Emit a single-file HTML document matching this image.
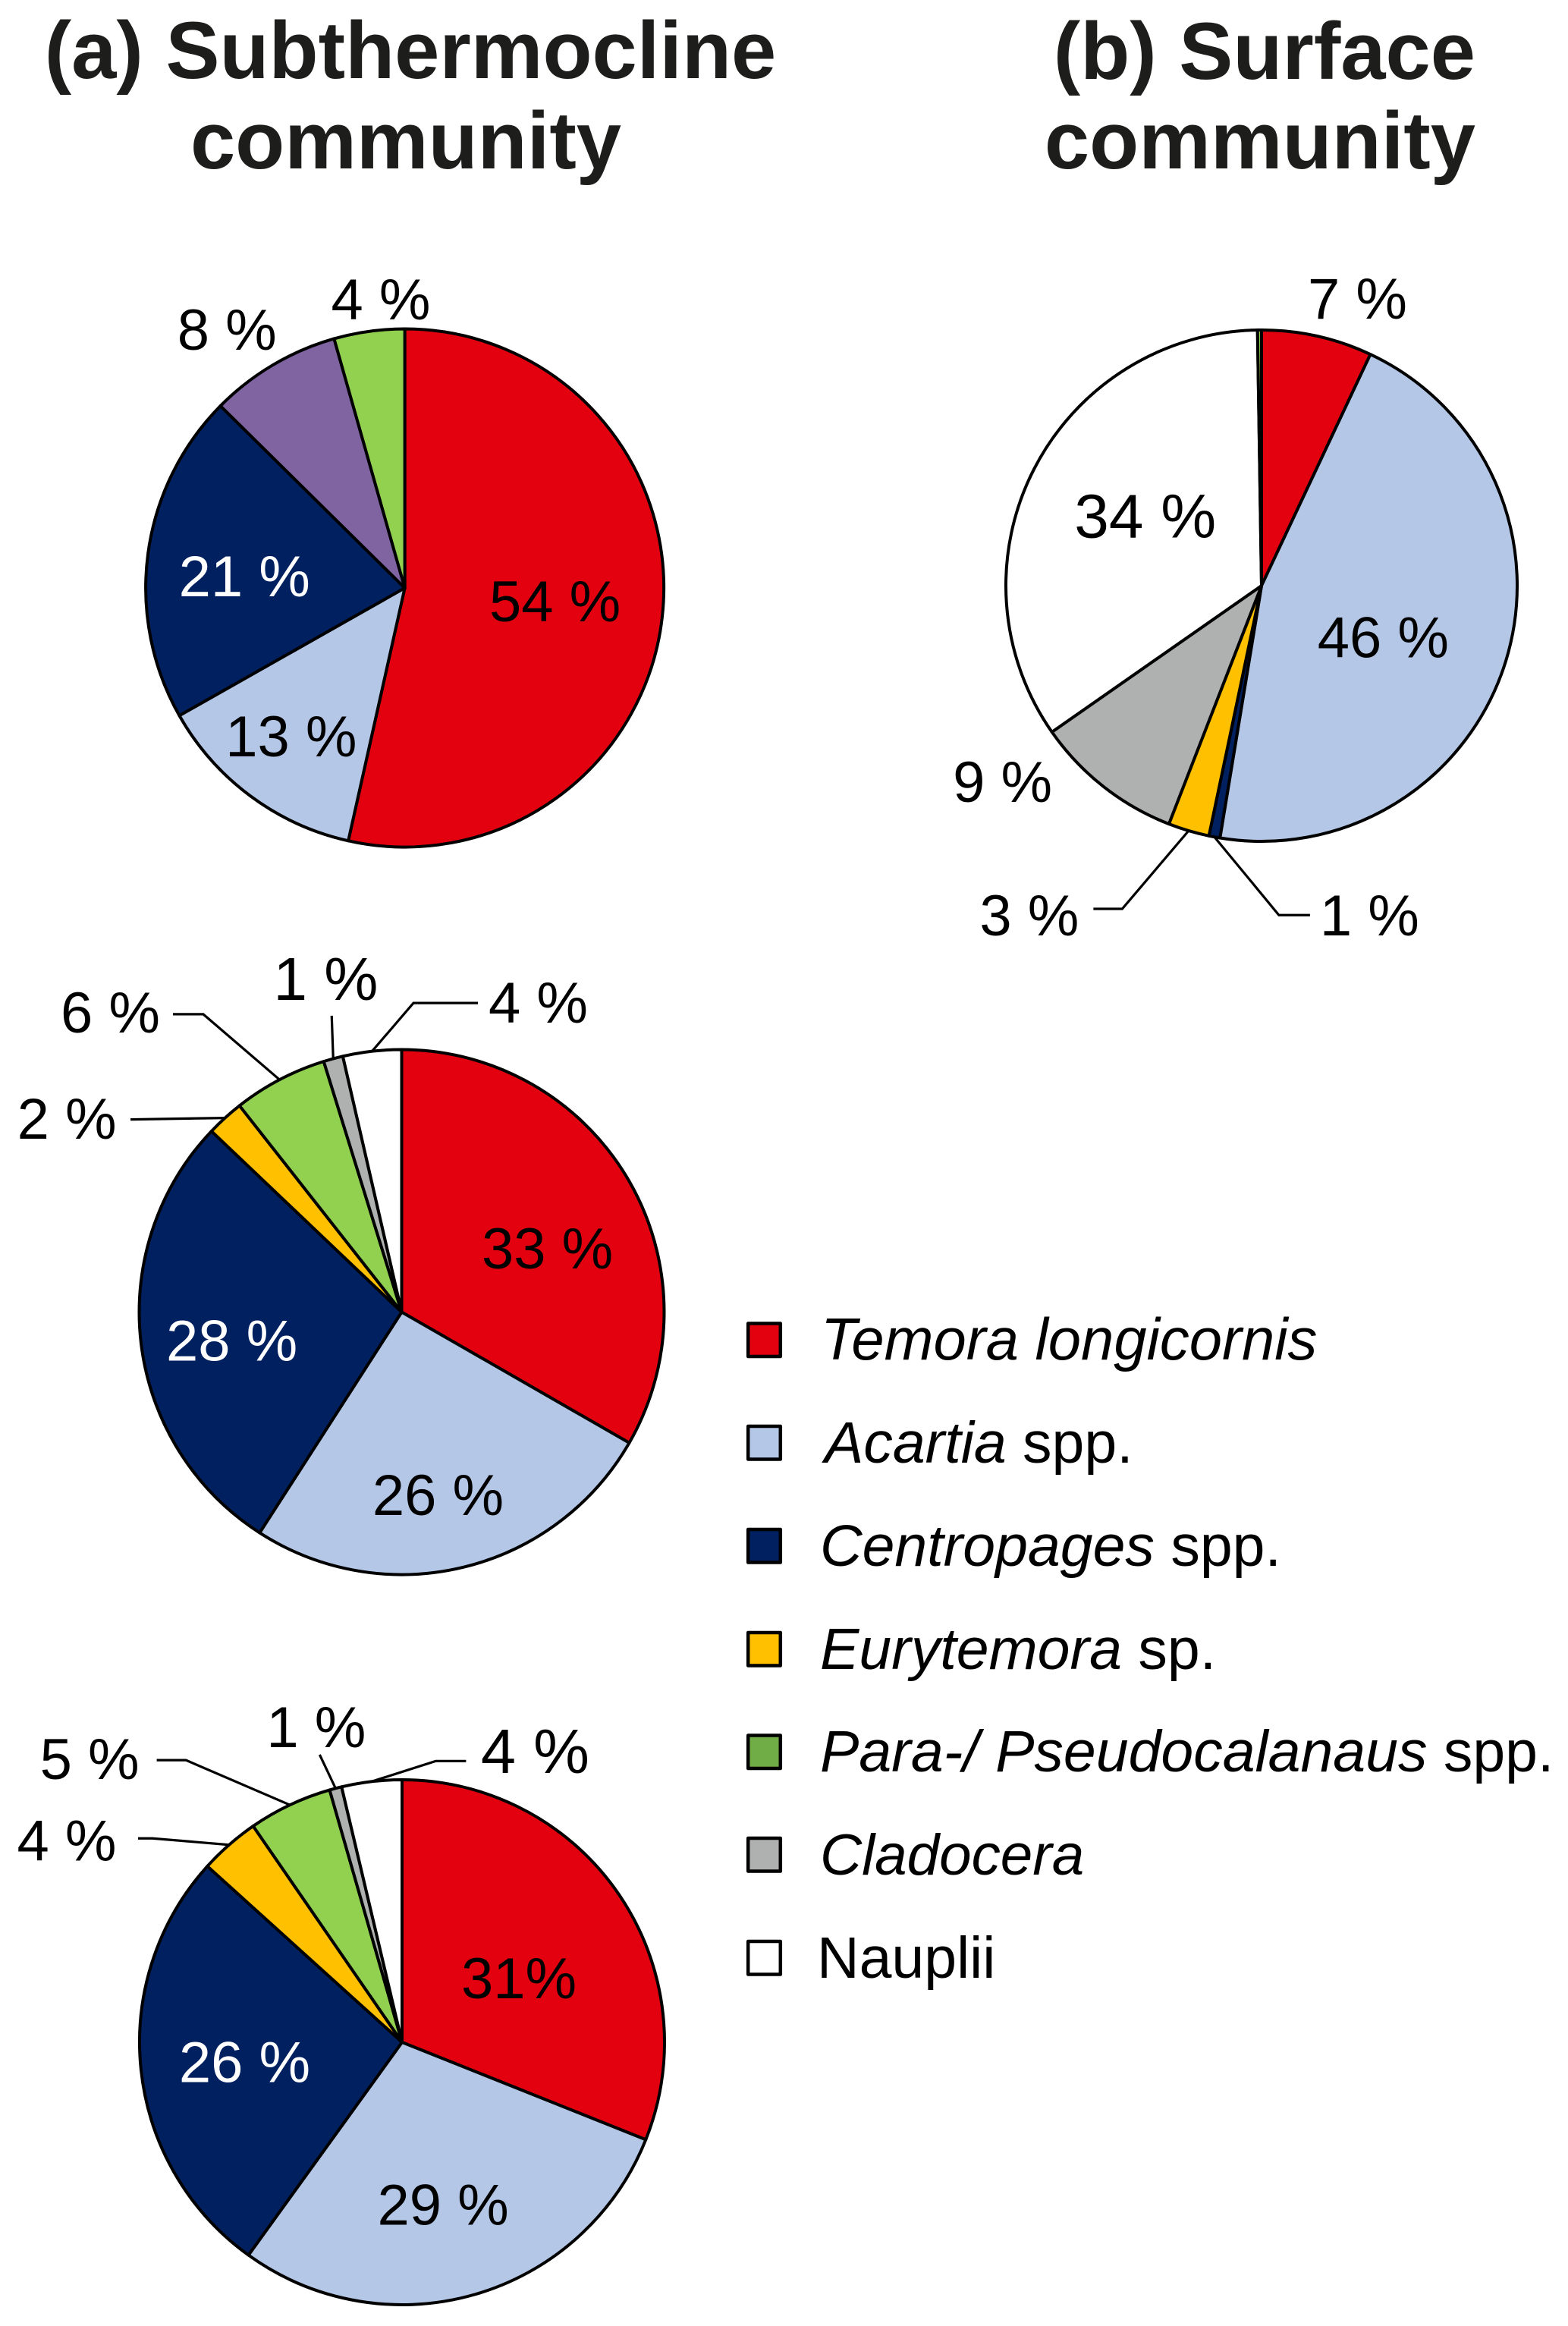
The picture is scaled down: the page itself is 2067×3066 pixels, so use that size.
<!DOCTYPE html>
<html lang="en">
<head>
<meta charset="utf-8">
<title>Subthermocline and surface community composition</title>
<style>
  html, body { margin: 0; padding: 0; background: #ffffff; }
  svg { display: block; }
  text { font-family: "Liberation Sans", sans-serif; }
  .title { font-size: 106.5px; font-weight: 700; fill: #1d1d1b; }
  .legend-text { font-size: 77px; fill: #000; }
  .swatch { stroke: #000; stroke-width: 4.5; stroke-linejoin: round; }
  .it { font-style: italic; }
</style>
</head>
<body>
<svg id="chart" xmlns="http://www.w3.org/2000/svg" width="2067" height="3066" viewBox="0 0 2067 3066">
  <rect x="0" y="0" width="2067" height="3066" fill="#ffffff"/>
  <g>
    <text class="title" x="541" y="103" text-anchor="middle">(a) Subthermocline</text>
    <text class="title" x="535" y="222" text-anchor="middle">community</text>
  </g>
  <g>
    <text class="title" x="1945" y="104" text-anchor="end">(b) Surface</text>
    <text class="title" x="1945" y="222" text-anchor="end">community</text>
  </g>
  <g id="pies"></g>
  <g>
    <g>
      <rect class="swatch" x="986.2" y="1744.5" width="42.6" height="43.5" fill="#E3000F"/>
      <text class="legend-text it" x="1082" y="1792" style="font-size:77.8px">Temora longicornis</text>
    </g>
    <g>
      <rect class="swatch" x="986.2" y="1880" width="42.6" height="43.5" fill="#B4C7E7"/>
      <text class="legend-text" x="1087" y="1928"><tspan class="it">Acartia</tspan> spp.</text>
    </g>
    <g>
      <rect class="swatch" x="986.2" y="2016" width="42.6" height="43.5" fill="#002060"/>
      <text class="legend-text" x="1081" y="2064"><tspan class="it">Centropages</tspan> spp.</text>
    </g>
    <g>
      <rect class="swatch" x="986.2" y="2152" width="42.6" height="43.5" fill="#FFC000"/>
      <text class="legend-text" x="1081" y="2200"><tspan class="it">Eurytemora</tspan> sp.</text>
    </g>
    <g>
      <rect class="swatch" x="986.2" y="2287.5" width="42.6" height="43.5" fill="#70AD47"/>
      <text class="legend-text" x="1081" y="2335"><tspan class="it">Para-/ Pseudocalanaus</tspan> spp.</text>
    </g>
    <g>
      <rect class="swatch" x="986.2" y="2423" width="42.6" height="43.5" fill="#AFB1B0"/>
      <text class="legend-text it" x="1081" y="2471" style="font-size:76.4px">Cladocera</text>
    </g>
    <g>
      <rect class="swatch" x="986.2" y="2559" width="42.6" height="43.5" fill="#FFFFFF"/>
      <text class="legend-text" x="1077" y="2607">Nauplii</text>
    </g>
  </g>
</svg>
<script>
// ---- data (percent of community) ----
const categoriesA1 = ['temora', 'acartia', 'centropages', 'purple-taxon', 'pseudocalanus'];
const valuesA1 = [53.5, 13.3, 20.6, 8.2, 4.4];
const labelsA1 = ['54 %', '13 %', '21 %', '8 %', '4 %'];

const categoriesA2 = ['temora', 'acartia', 'centropages', 'eurytemora', 'pseudocalanus', 'cladocera', 'nauplii'];
const valuesA2 = [33.3, 25.8, 28.0, 2.3, 5.8, 1.2, 3.6];
const labelsA2 = ['33 %', '26 %', '28 %', '2 %', '6 %', '1 %', '4 %'];

const categoriesA3 = ['temora', 'acartia', 'centropages', 'eurytemora', 'pseudocalanus', 'cladocera', 'nauplii'];
const valuesA3 = [31.05, 28.9, 26.75, 3.7, 5.15, 0.75, 3.7];
const labelsA3 = ['31%', '29 %', '26 %', '4 %', '5 %', '1 %', '4 %'];

const categoriesB = ['temora', 'acartia', 'centropages', 'eurytemora', 'cladocera', 'nauplii', 'pseudocalanus'];
const valuesB = [7.0, 45.6, 0.7, 2.6, 9.4, 34.45, 0.25];
const labelsB = ['7 %', '46 %', '1 %', '3 %', '9 %', '34 %', ''];

// ---- styling and layout, kept apart from the data ----
const palette = {
  'temora': '#E3000F', 'acartia': '#B4C7E7', 'centropages': '#002060', 'eurytemora': '#FFC000',
  'pseudocalanus': '#92D050', 'cladocera': '#AFB1B0', 'nauplii': '#FFFFFF', 'purple-taxon': '#8064A2'
};

// Label offsets are measured from the rim midpoint of each slice.
// Leader paths are [start, optional elbow] offsets from the same rim midpoint.
const pieLayouts = [
  { id: 'a1', cx: 533.6, cy: 775, r: 341.5, whiteIndex: 2, sizes: {},
    offsets: [[-225, 6.5], [-30, -52.5], [43.5, 56], [-123, -20], [-47, -16]],
    leaders: [null, null, null, null, null] },
  { id: 'a2', cx: 529.5, cy: 1729.5, r: 346, whiteIndex: 2, sizes: { 5: 80 },
    offsets: [[-191, 116], [-117.5, -68.8], [36, 23], [-271, 27.5], [-285.6, -62], [-75.7, -77.6], [156.6, -37.6]],
    leaders: [null, null, null, [[-124.6, 2]], [[-140.6, -86.3], [-100.6, -86.3]], [[-2, -56.6]], [[139.6, -63.6], [54.6, -63.6]]] },
  { id: 'a3', cx: 530, cy: 2692, r: 346, whiteIndex: 2, sizes: { 6: 83 },
    offsets: [[-205.5, 136], [-126, -92], [53, 16], [-276.5, 21], [-326.6, -34], [-88, -54.4], [147, -11.4]],
    leaders: [null, null, null, [[-120, -8.5], [-101, -8.5]], [[-175.6, -59], [-137, -59]], [[-21, -44.4]], [[124.5, -27], [84.5, -27]]] },
  { id: 'b', cx: 1663, cy: 772, r: 337, whiteIndex: -1, sizes: { 5: 82 },
    offsets: [[-9.5, -23], [-245, -5.5], [142, 130], [-272.6, 138], [-195.7, 20], [56.3, 90], [0, 0]],
    leaders: [null, null, [[126, 103], [85, 103]], [[-125.6, 103], [-87.6, 103]], null, null, null] }
];

const pieSeries = {
  a1: { categories: categoriesA1, values: valuesA1, labels: labelsA1 },
  a2: { categories: categoriesA2, values: valuesA2, labels: labelsA2 },
  a3: { categories: categoriesA3, values: valuesA3, labels: labelsA3 },
  b:  { categories: categoriesB,  values: valuesB,  labels: labelsB }
};

const NS = 'http://www.w3.org/2000/svg';
const host = document.getElementById('pies');

function polar(layout, pct) {
  const a = pct / 100 * 2 * Math.PI;
  return [layout.cx + layout.r * Math.sin(a), layout.cy - layout.r * Math.cos(a)];
}

function drawPie(layout) {
  const series = pieSeries[layout.id];
  const total = series.values.reduce(function (s, v) { return s + v; }, 0);
  const group = document.createElementNS(NS, 'g');
  
  
  host.appendChild(group);

  let cum = 0;
  const annotations = [];
  series.values.forEach(function (v, i) {
    const share = v / total * 100;
    const start = polar(layout, cum);
    const end = polar(layout, cum + share);
    const anchor = polar(layout, cum + share / 2);
    const large = share > 50 ? 1 : 0;
    const cat = series.categories[i];

    const slice = document.createElementNS(NS, 'path');
    slice.setAttribute('d', 'M' + layout.cx + ' ' + layout.cy + 'L' + start[0] + ' ' + start[1] +
      'A' + layout.r + ' ' + layout.r + ' 0 ' + large + ' 1 ' + end[0] + ' ' + end[1] + 'Z');
    slice.setAttribute('fill', palette[cat]);
    slice.setAttribute('stroke', '#000');
    slice.setAttribute('stroke-width', '4');
    slice.setAttribute('stroke-linejoin', 'round');
    
    
    group.appendChild(slice);

    annotations.push({ anchor: anchor, index: i, cat: cat });
    cum += share;
  });

  annotations.forEach(function (item) {
    const leader = layout.leaders[item.index];
    if (leader) {
      const pts = leader.map(function (o) { return (item.anchor[0] + o[0]) + ',' + (item.anchor[1] + o[1]); });
      pts.push(item.anchor[0] + ',' + item.anchor[1]);
      const line = document.createElementNS(NS, 'polyline');
      line.setAttribute('points', pts.join(' '));
      line.setAttribute('fill', 'none');
      line.setAttribute('stroke', '#000');
      line.setAttribute('stroke-width', '3.2');
      
      
      group.appendChild(line);
    }
    const labelText = series.labels[item.index];
    if (labelText) {
      const off = layout.offsets[item.index];
      const label = document.createElementNS(NS, 'text');
      label.setAttribute('x', item.anchor[0] + off[0] - 3);
      label.setAttribute('y', item.anchor[1] + off[1]);
      label.setAttribute('font-size', layout.sizes[item.index] || 76);
      label.setAttribute('fill', item.index === layout.whiteIndex ? '#ffffff' : '#000000');
      
      
      label.textContent = labelText;
      group.appendChild(label);
    }
  });
}

pieLayouts.forEach(drawPie);
</script>
</body>
</html>
